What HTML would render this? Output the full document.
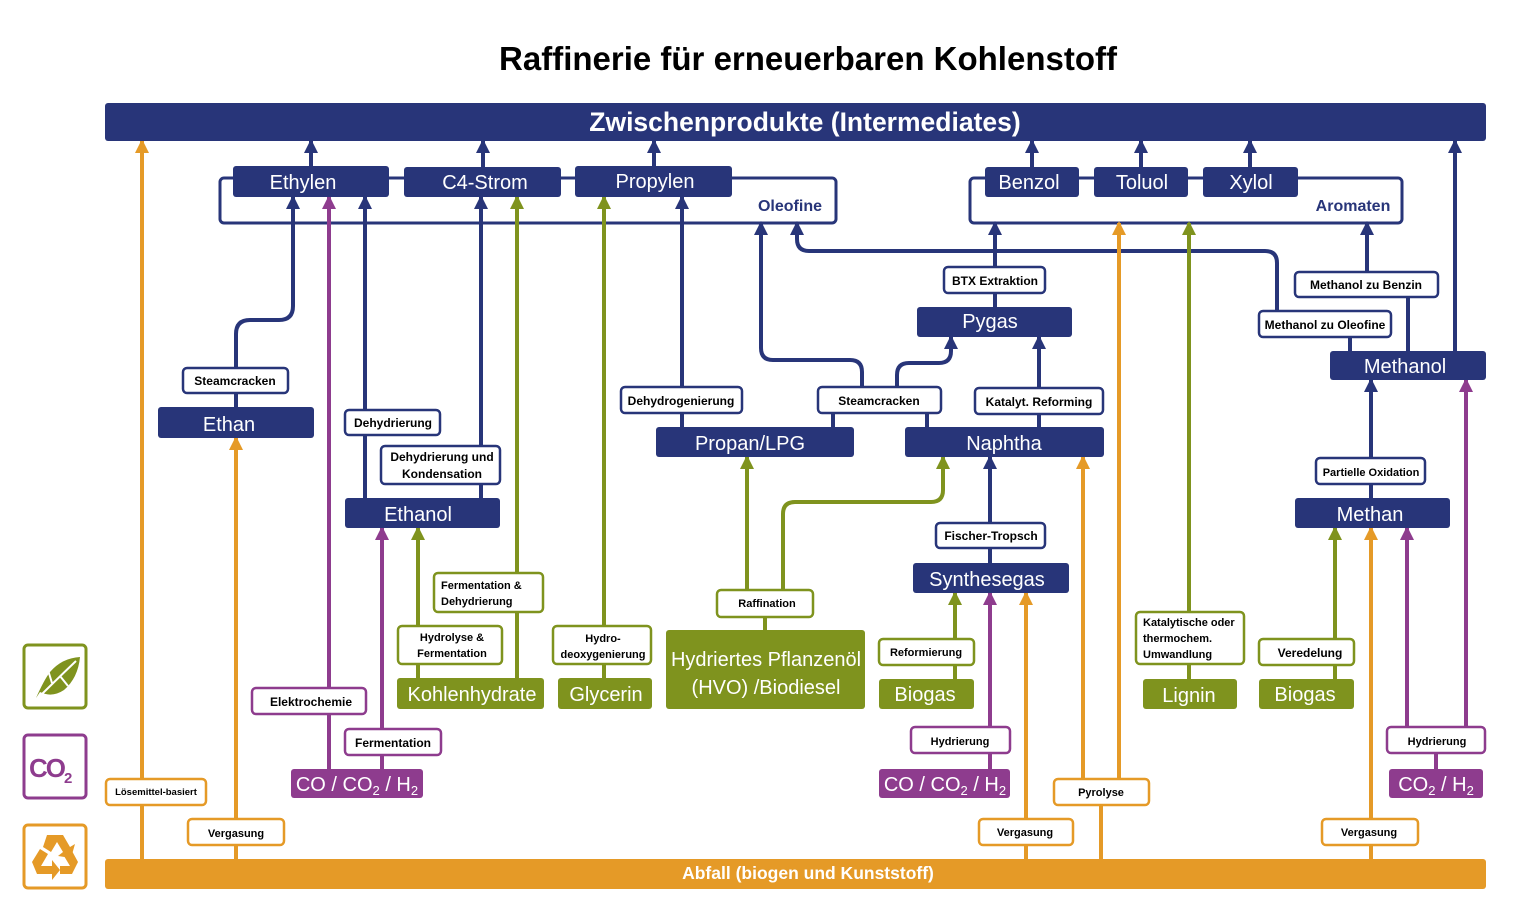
<!DOCTYPE html>
<html><head><meta charset="utf-8"><style>
html,body{margin:0;padding:0;background:#fff;width:1518px;height:920px;overflow:hidden}
svg{display:block}
text{font-family:"Liberation Sans Narrow","Liberation Sans",sans-serif}
.nb{fill:#283579}
.gb{fill:#7F931E}
.pb{fill:#8E3C8E}
.wt{fill:#fff;font-size:20px;text-anchor:middle}
.lb{fill:#fff;stroke-width:2.5}
.lt{fill:#000;font-size:12px;font-weight:bold;text-anchor:middle}
.N{stroke:#283579;stroke-width:4;fill:none}
.O{stroke:#E59A27;stroke-width:4;fill:none}
.G{stroke:#7F931E;stroke-width:4;fill:none}
.P{stroke:#8E3C8E;stroke-width:4;fill:none}
</style></head><body>
<svg width="1518" height="920" viewBox="0 0 1518 920" xmlns="http://www.w3.org/2000/svg">
<defs>
<marker id="aN" markerWidth="14" markerHeight="14" refX="12" refY="7" orient="auto" markerUnits="userSpaceOnUse"><path d="M0,0 L14,7 L0,14 z" fill="#283579"/></marker>
<marker id="aO" markerWidth="14" markerHeight="14" refX="12" refY="7" orient="auto" markerUnits="userSpaceOnUse"><path d="M0,0 L14,7 L0,14 z" fill="#E59A27"/></marker>
<marker id="aG" markerWidth="14" markerHeight="14" refX="12" refY="7" orient="auto" markerUnits="userSpaceOnUse"><path d="M0,0 L14,7 L0,14 z" fill="#7F931E"/></marker>
<marker id="aP" markerWidth="14" markerHeight="14" refX="12" refY="7" orient="auto" markerUnits="userSpaceOnUse"><path d="M0,0 L14,7 L0,14 z" fill="#8E3C8E"/></marker>
</defs>

<text x="808" y="70" text-anchor="middle" style="font-family:'Liberation Sans',sans-serif;font-size:33px;font-weight:bold" fill="#000">Raffinerie für erneuerbaren Kohlenstoff</text>

<rect x="220" y="178" width="616" height="45" rx="4" fill="#fff" stroke="#283579" stroke-width="3"/>
<rect x="970" y="178" width="432" height="45" rx="4" fill="#fff" stroke="#283579" stroke-width="3"/>
<text x="790" y="211" fill="#283579" font-size="16" font-weight="bold" text-anchor="middle">Oleofine</text>
<text x="1353" y="211" fill="#283579" font-size="16" font-weight="bold" text-anchor="middle">Aromaten</text>

<g class="N" marker-end="url(#aN)">
<path d="M311 166 V141"/><path d="M483 167 V141"/><path d="M654 166 V141"/>
<path d="M1032 167 V141"/><path d="M1141 167 V141"/><path d="M1250 167 V141"/>
<path d="M1455 351 V141"/>
<path d="M236 407 V334 Q236 320 250 320 H279 Q293 320 293 306 V197"/>
<path d="M365 498 V197"/>
<path d="M481 498 V197"/>
<path d="M682 427 V197"/>
<path d="M862 387 V372 Q862 360 850 360 H773 Q761 360 761 348 V223"/>
<path d="M897 387 V375 Q897 363 909 363 H939 Q951 363 951 351 V337"/>
<path d="M1039 427 V337"/>
<path d="M995 307 V223"/>
<path d="M1277 311 V263 Q1277 251 1265 251 H809 Q797 251 797 239 V223"/>
<path d="M1367 272 V223"/>
<path d="M1371 498 V380"/>
<path d="M990 563 V457"/>
</g>
<g class="N">
<path d="M833 427 V413"/><path d="M927 427 V413"/>
<path d="M1350 351 V337"/><path d="M1408 351 V297"/>
</g>
<g class="O" marker-end="url(#aO)">
<path d="M142 859 V141"/>
<path d="M236 859 V438"/>
<path d="M1026 859 V593"/>
<path d="M1083 779 V457"/>
<path d="M1119 779 V223"/>
<path d="M1371 859 V528"/>
</g>
<path class="O" d="M1101 859 V805"/>
<g class="P" marker-end="url(#aP)">
<path d="M329 769 V197"/>
<path d="M382 769 V528"/>
<path d="M990 769 V593"/>
<path d="M1407 727 V528"/>
<path d="M1466 727 V380"/>
</g>
<path class="P" d="M1436 769 V753"/>
<g class="G" marker-end="url(#aG)">
<path d="M418 678 V528"/>
<path d="M517 678 V197"/>
<path d="M604 678 V197"/>
<path d="M747 590 V457"/>
<path d="M783 590 V514 Q783 502 795 502 H931 Q943 502 943 490 V457"/>
<path d="M955 679 V593"/>
<path d="M1189 679 V223"/>
<path d="M1335 679 V528"/>
</g>
<path class="G" d="M765 630 V617"/>

<rect x="105" y="103" width="1381" height="38" rx="3" class="nb"/>
<text x="805" y="131" class="wt" style="font-size:26.5px;font-weight:bold">Zwischenprodukte (Intermediates)</text>
<rect x="105" y="859" width="1381" height="30" rx="3" fill="#E59A27"/>
<text x="808" y="879" class="wt" style="font-size:17.5px;font-weight:bold">Abfall (biogen und Kunststoff)</text>

<g>
<rect x="233" y="166" width="156" height="31" rx="3" class="nb"/><text x="303" y="189" class="wt">Ethylen</text>
<rect x="404" y="167" width="157" height="30" rx="3" class="nb"/><text x="485" y="189" class="wt">C4-Strom</text>
<rect x="575" y="166" width="157" height="31" rx="3" class="nb"/><text x="655" y="188" class="wt">Propylen</text>
<rect x="985" y="167" width="94" height="30" rx="3" class="nb"/><text x="1029" y="189" class="wt">Benzol</text>
<rect x="1094" y="167" width="94" height="30" rx="3" class="nb"/><text x="1142" y="189" class="wt">Toluol</text>
<rect x="1203" y="167" width="95" height="30" rx="3" class="nb"/><text x="1251" y="189" class="wt">Xylol</text>
<rect x="158" y="407" width="156" height="31" rx="3" class="nb"/><text x="229" y="431" class="wt">Ethan</text>
<rect x="345" y="498" width="155" height="30" rx="3" class="nb"/><text x="418" y="521" class="wt">Ethanol</text>
<rect x="656" y="427" width="198" height="30" rx="3" class="nb"/><text x="750" y="450" class="wt">Propan/LPG</text>
<rect x="905" y="427" width="199" height="30" rx="3" class="nb"/><text x="1004" y="450" class="wt">Naphtha</text>
<rect x="917" y="307" width="155" height="30" rx="3" class="nb"/><text x="990" y="328" class="wt">Pygas</text>
<rect x="1330" y="351" width="156" height="29" rx="3" class="nb"/><text x="1405" y="373" class="wt">Methanol</text>
<rect x="1295" y="498" width="155" height="30" rx="3" class="nb"/><text x="1370" y="521" class="wt">Methan</text>
<rect x="913" y="563" width="156" height="30" rx="3" class="nb"/><text x="987" y="586" class="wt">Synthesegas</text>
</g>
<rect x="397" y="678" width="147" height="31" rx="3" class="gb"/><text x="472" y="701" class="wt">Kohlenhydrate</text>
<rect x="558" y="678" width="94" height="31" rx="3" class="gb"/><text x="606" y="701" class="wt">Glycerin</text>
<rect x="666" y="630" width="199" height="79" rx="3" class="gb"/>
<text x="766" y="666" class="wt">Hydriertes Pflanzenöl</text><text x="766" y="694" class="wt">(HVO) /Biodiesel</text>
<rect x="879" y="679" width="95" height="30" rx="3" class="gb"/><text x="925" y="701" class="wt">Biogas</text>
<rect x="1143" y="679" width="94" height="30" rx="3" class="gb"/><text x="1189" y="702" class="wt">Lignin</text>
<rect x="1259" y="679" width="95" height="30" rx="3" class="gb"/><text x="1305" y="701" class="wt">Biogas</text>
<rect x="291" y="769" width="132" height="29" rx="3" class="pb"/>
<text x="357" y="791" class="wt">CO / CO<tspan font-size="13" dy="4">2</tspan><tspan dy="-4"> / H</tspan><tspan font-size="13" dy="4">2</tspan></text>
<rect x="879" y="769" width="131" height="29" rx="3" class="pb"/>
<text x="945" y="791" class="wt">CO / CO<tspan font-size="13" dy="4">2</tspan><tspan dy="-4"> / H</tspan><tspan font-size="13" dy="4">2</tspan></text>
<rect x="1389" y="769" width="94" height="29" rx="3" class="pb"/>
<text x="1436" y="791" class="wt">CO<tspan font-size="13" dy="4">2</tspan><tspan dy="-4"> / H</tspan><tspan font-size="13" dy="4">2</tspan></text>

<g stroke="#283579">
<rect x="183" y="368" width="105" height="25" rx="4" class="lb"/>
<rect x="345" y="410" width="95" height="25" rx="4" class="lb"/>
<rect x="381" y="446" width="119" height="38" rx="4" class="lb"/>
<rect x="621" y="387" width="121" height="26" rx="4" class="lb"/>
<rect x="818" y="387" width="123" height="26" rx="4" class="lb"/>
<rect x="975" y="388" width="128" height="26" rx="4" class="lb"/>
<rect x="944" y="267" width="101" height="26" rx="4" class="lb"/>
<rect x="1295" y="272" width="143" height="25" rx="4" class="lb"/>
<rect x="1259" y="311" width="132" height="26" rx="4" class="lb"/>
<rect x="1316" y="458" width="109" height="26" rx="4" class="lb"/>
<rect x="936" y="523" width="109" height="25" rx="4" class="lb"/>
</g>
<g stroke="#7F931E">
<rect x="434" y="573" width="109" height="39" rx="4" class="lb"/>
<rect x="398" y="626" width="104" height="38" rx="4" class="lb"/>
<rect x="553" y="626" width="98" height="38" rx="4" class="lb"/>
<rect x="717" y="590" width="96" height="27" rx="4" class="lb"/>
<rect x="879" y="639" width="95" height="26" rx="4" class="lb"/>
<rect x="1136" y="612" width="108" height="52" rx="4" class="lb"/>
<rect x="1259" y="639" width="95" height="26" rx="4" class="lb"/>
</g>
<g stroke="#8E3C8E">
<rect x="252" y="688" width="114" height="26" rx="4" class="lb"/>
<rect x="345" y="729" width="96" height="26" rx="4" class="lb"/>
<rect x="911" y="727" width="99" height="26" rx="4" class="lb"/>
<rect x="1387" y="727" width="98" height="26" rx="4" class="lb"/>
</g>
<g stroke="#E59A27">
<rect x="106" y="779" width="100" height="26" rx="4" class="lb"/>
<rect x="188" y="819" width="96" height="26" rx="4" class="lb"/>
<rect x="979" y="819" width="94" height="26" rx="4" class="lb"/>
<rect x="1054" y="779" width="95" height="26" rx="4" class="lb"/>
<rect x="1322" y="819" width="96" height="26" rx="4" class="lb"/>
</g>

<g class="lt">
<text x="235" y="385">Steamcracken</text>
<text x="393" y="427">Dehydrierung</text>
<text x="442" y="461">Dehydrierung und</text><text x="442" y="478">Kondensation</text>
<text x="681" y="405">Dehydrogenierung</text>
<text x="879" y="405">Steamcracken</text>
<text x="1039" y="406">Katalyt. Reforming</text>
<text x="995" y="285">BTX Extraktion</text>
<text x="1366" y="289">Methanol zu Benzin</text>
<text x="1325" y="329">Methanol zu Oleofine</text>
<text x="1371" y="476" font-size="11">Partielle Oxidation</text>
<text x="991" y="540">Fischer-Tropsch</text>
<text x="441" y="589" font-size="11" text-anchor="start">Fermentation &amp;</text><text x="441" y="605" font-size="11" text-anchor="start">Dehydrierung</text>
<text x="452" y="641" font-size="11">Hydrolyse &amp;</text><text x="452" y="657" font-size="11">Fermentation</text>
<text x="603" y="642" font-size="11">Hydro-</text><text x="603" y="658" font-size="11">deoxygenierung</text>
<text x="767" y="607" font-size="11">Raffination</text>
<text x="926" y="656" font-size="11">Reformierung</text>
<text x="1143" y="626" font-size="11" text-anchor="start">Katalytische oder</text>
<text x="1143" y="642" font-size="11" text-anchor="start">thermochem.</text>
<text x="1143" y="658" font-size="11" text-anchor="start">Umwandlung</text>
<text x="1310" y="657">Veredelung</text>
<text x="311" y="706">Elektrochemie</text>
<text x="393" y="747">Fermentation</text>
<text x="960" y="745" font-size="11">Hydrierung</text>
<text x="1437" y="745" font-size="11">Hydrierung</text>
<text x="156" y="795" font-size="9.5">Lösemittel-basiert</text>
<text x="236" y="837" font-size="11">Vergasung</text>
<text x="1025" y="836" font-size="11">Vergasung</text>
<text x="1101" y="796" font-size="11">Pyrolyse</text>
<text x="1369" y="836" font-size="11">Vergasung</text>
</g>

<rect x="24" y="645" width="62" height="63" rx="4" fill="#fff" stroke="#7F931E" stroke-width="3"/>
<path d="M36 698 Q44 680 50 672 Q62 658 80 657 Q78 678 64 690 Q52 698 40 692" fill="#7F931E"/>
<path d="M36 700 Q54 682 76 661 M52 683 L48 670 M60 676 L68 686" stroke="#fff" stroke-width="2" fill="none"/>
<rect x="24" y="735" width="62" height="63" rx="4" fill="#fff" stroke="#8E3C8E" stroke-width="3"/>
<text x="29" y="777" font-size="26" font-weight="bold" fill="#8E3C8E" style="font-family:'Liberation Sans',sans-serif;letter-spacing:-2px">CO<tspan font-size="15" dy="6">2</tspan></text>
<rect x="24" y="825" width="62" height="63" rx="4" fill="#fff" stroke="#E59A27" stroke-width="3"/>
<g fill="#E59A27">
<path d="M47 835 L63 835 L70 847 L75 844 L71 858 L58 856 L63 852 L57 842 L51 852 L43 847 z"/>
<path d="M32 862 L40 849 L48 854 L41 866 L52 866 L52 860 L60 870 L52 880 L52 874 L37 874 z"/>
<path d="M78 862 L72 851 L64 856 L70 866 L60 866 L60 874 L72 874 z"/>
</g>
</svg>
</body></html>
